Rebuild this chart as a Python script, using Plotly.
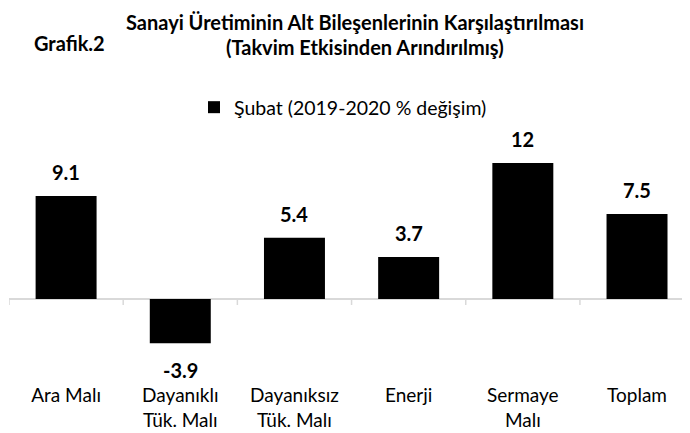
import plotly.graph_objects as go

categories = ["Ara Malı", "Dayanıklı<br>Tük. Malı", "Dayanıksız<br>Tük. Malı", "Enerji", "Sermaye<br>Malı", "Toplam"]
values = [9.1, -3.9, 5.4, 3.7, 12, 7.5]
value_labels = ["9.1", "-3.9", "5.4", "3.7", "12", "7.5"]
series_name = "Şubat (2019-2020 % değişim)"
title_lines = ["Sanayi Üretiminin Alt Bileşenlerinin Karşılaştırılması", "(Takvim Etkisinden Arındırılmış)"]
side_label = "Grafik.2"

FONT = "Lato"
idx = list(range(len(categories)))

# page body has an 8px default margin; figure is sized to fill the rest of the window
PLOT_L, PLOT_R, PLOT_T, PLOT_B = 9, 690, 130, 382


def px(xp):
    return (xp - PLOT_L) / (PLOT_R - PLOT_L)


def py(yp):
    return (PLOT_B - yp) / (PLOT_B - PLOT_T)


fig = go.Figure()
fig.add_trace(go.Bar(x=idx, y=values, marker_color="#000000", marker_line_width=0,
                     name=series_name, showlegend=True))

annotations = []
for i, (v, t) in enumerate(zip(values, value_labels)):
    annotations.append(dict(x=i, y=v, xref="x", yref="y", text="<b>%s</b>" % t, showarrow=False,
                            yshift=24 if v >= 0 else -27, font=dict(family=FONT, size=20, color="#000")))
annotations.append(dict(x=px(355), y=py(22), xref="paper", yref="paper", xanchor="center", yanchor="middle",
                        text="<b>%s</b>" % title_lines[0], showarrow=False, font=dict(family=FONT, size=20, color="#000")))
annotations.append(dict(x=px(365), y=py(47), xref="paper", yref="paper", xanchor="center", yanchor="middle",
                        text="<b>%s</b>" % title_lines[1], showarrow=False, font=dict(family=FONT, size=20, color="#000")))
annotations.append(dict(x=px(32), y=py(43), xref="paper", yref="paper", xanchor="left", yanchor="middle",
                        text="<b>%s</b>" % side_label, showarrow=False, font=dict(family=FONT, size=20, color="#000")))

shapes = []
for b in [i - 0.5 for i in range(len(categories) + 1)]:
    shapes.append(dict(type="line", xref="x", yref="y", x0=b, x1=b, ysizemode="pixel", yanchor=0, y0=0, y1=-6,
                       line=dict(color="#d9d9d9", width=1.5)))

fig.update_layout(
    width=682, height=425,
    margin=dict(l=PLOT_L - 8, r=690 - PLOT_R, t=PLOT_T - 8, b=425 - (PLOT_B - 8)),
    paper_bgcolor="white", plot_bgcolor="white",
    bargap=0.466,
    font=dict(family=FONT, size=19, color="#000"),
    xaxis=dict(tickmode="array", tickvals=idx, ticktext=categories, range=[-0.5, 5.464],
               showgrid=False, zeroline=False, showline=False, ticks="", tickfont=dict(size=19)),
    yaxis=dict(range=[-7.33, 14.92], showgrid=False, showticklabels=False, zeroline=True,
               zerolinecolor="#d9d9d9", zerolinewidth=1.5, showline=False, ticks=""),
    legend=dict(orientation="h", x=px(194), y=py(88), xanchor="left", yanchor="top",
                font=dict(family=FONT, size=19.5, color="#000"), bgcolor="rgba(0,0,0,0)"),
    annotations=annotations, shapes=shapes,
)

fig.write_html("out.html")
